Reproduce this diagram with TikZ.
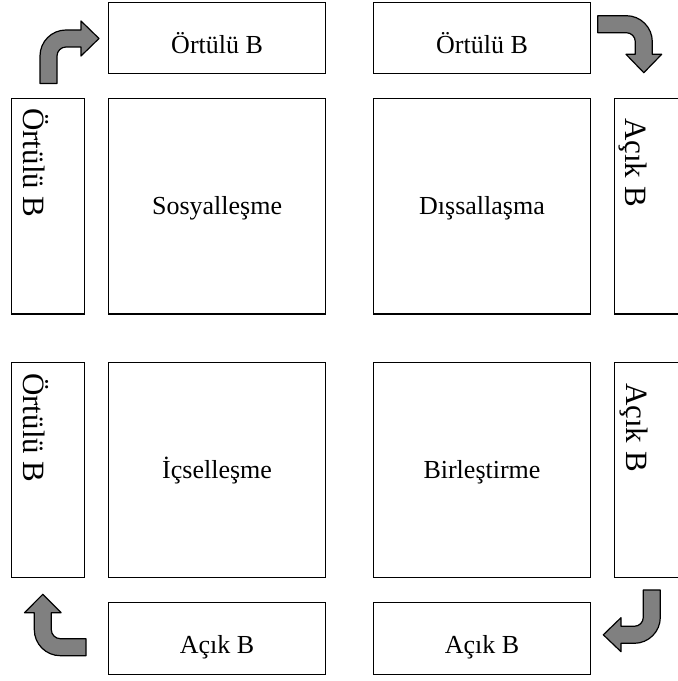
\documentclass[tikz,border=0pt]{standalone}
\usepackage{fontspec}
\setmainfont{Liberation Serif}
\begin{document}
\begin{tikzpicture}[x=1pt,y=1pt,
  box/.style={draw=black,line width=1.2pt,fill=white},
  lbl/.style={inner sep=0pt,font=\fontsize{26}{31}\selectfont},
  vlbl/.style={inner sep=0pt,font=\fontsize{31}{37}\selectfont,rotate=-90,anchor=base west},
  bent/.style={draw=black,line width=1.2pt,fill=gray,line join=round}]
\clip (0,0) rectangle (678,681);

% horizontal boxes, top and bottom
\draw[box] (108.7,607.7) rectangle (325.5,678.3);
\draw[box] (373.5,607.7) rectangle (590.5,678.3);
\draw[box] (108.7,6.7) rectangle (325.5,78.7);
\draw[box] (373.5,6.7) rectangle (590.5,78.7);

% the four squares
\draw[box] (108.7,367) rectangle (325.5,582.7);
\draw[box] (373.5,367) rectangle (590.5,582.7);
\draw[box] (108.7,103.5) rectangle (325.5,318.3);
\draw[box] (373.5,103.5) rectangle (590.5,318.3);

% vertical side boxes
\draw[box] (11.7,367) rectangle (84.7,582.7);
\draw[box] (11.7,103.5) rectangle (84.7,318.3);
\draw[box] (614.5,367) rectangle (690,582.7);
\draw[box] (614.5,103.5) rectangle (690,318.3);

% labels of the horizontal boxes
\node[lbl,anchor=base] (tlt) at (217.1,627.7) {Örtülü B};
\node[lbl,anchor=base] (trt) at (482,627.7) {Örtülü B};
\node[lbl,anchor=base] (blt) at (217.1,27.7) {Açık B};
\node[lbl,anchor=base] (brt) at (482,27.7) {Açık B};

% labels of the squares
\node[lbl,anchor=base] (sos) at (217.1,466.3) {Sosyalleşme};
\node[lbl,anchor=base] (dis) at (482,466.3) {Dışsallaşma};
\node[lbl,anchor=base] (ics) at (217.1,202.4) {İçselleşme};
\node[lbl,anchor=base] (bir) at (482,202.4) {Birleştirme};

% labels of the side boxes
\node[vlbl] (lt) at (24,573) {Örtülü B};
\node[vlbl] (lb) at (24,308) {Örtülü B};
\node[vlbl] (rt) at (625,563) {Açık B};
\node[vlbl] (rb) at (626,298) {Açık B};

% bent block arrows in the corners
\draw[bent] (40,597.5) -- (40,625) arc[start angle=180,end angle=90,radius=26]
  -- (81,651) -- (81,660) -- (99,642.5) -- (81,625) -- (81,634) -- (66,634)
  arc[start angle=90,end angle=180,radius=9] -- (57,597.5) -- cycle;
\draw[bent] (597.7,665.3) -- (626.3,665.3) arc[start angle=90,end angle=0,radius=26]
  -- (652.3,626.7) -- (661.7,626.7) -- (643.8,608.3) -- (626,626.7) -- (635.3,626.7)
  -- (635.3,639.3) arc[start angle=0,end angle=90,radius=9] -- (597.7,648.3) -- cycle;
\draw[bent] (86,25.3) -- (60.3,25.3) arc[start angle=270,end angle=180,radius=26]
  -- (34.3,68.3) -- (24.5,68.3) -- (42.8,86.7) -- (61.1,68.3) -- (51.3,68.3)
  -- (51.3,51.3) arc[start angle=180,end angle=270,radius=9] -- (86,42.3) -- cycle;
\draw[bent] (660.3,91) -- (660.3,63.7) arc[start angle=0,end angle=-90,radius=26]
  -- (621,37.7) -- (621,29.3) -- (603.3,46.2) -- (621,63.3) -- (621,54.7)
  -- (634.3,54.7) arc[start angle=-90,end angle=0,radius=9] -- (643.3,91) -- cycle;
\end{tikzpicture}
\end{document}
